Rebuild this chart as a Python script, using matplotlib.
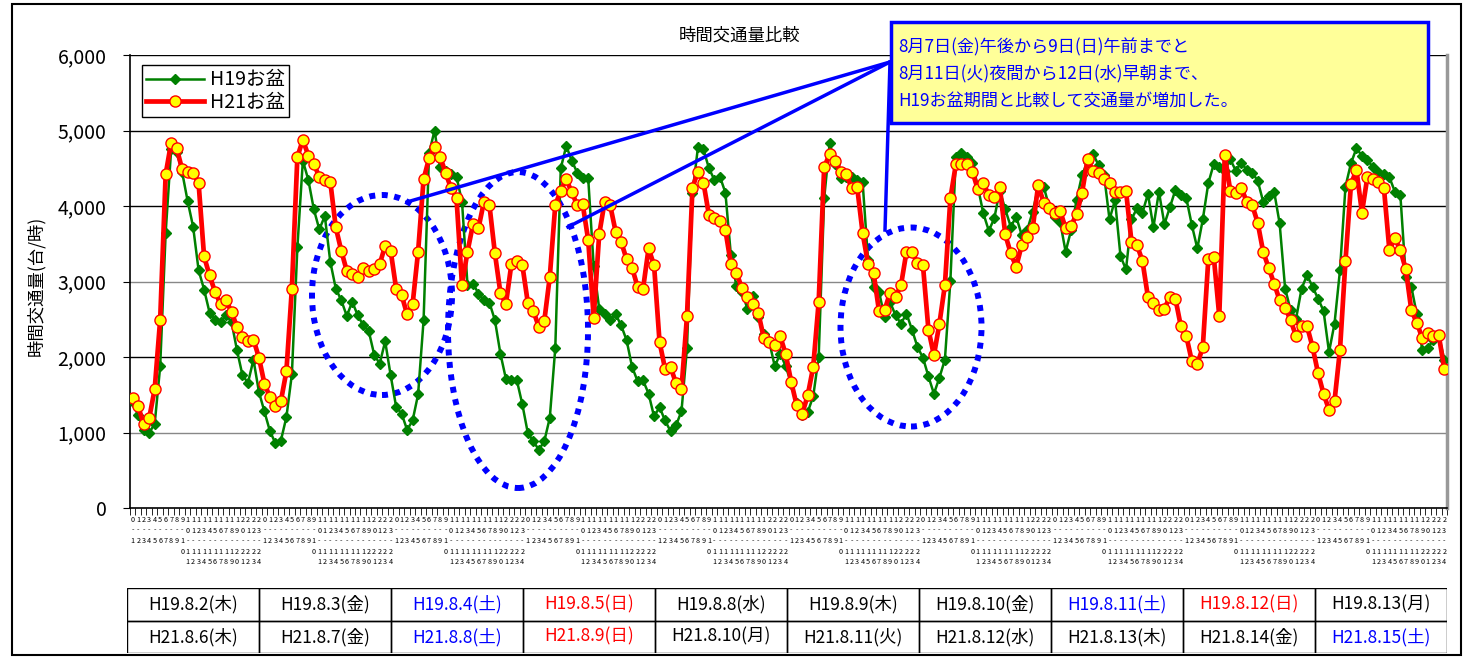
import matplotlib
matplotlib.use("Agg")
import matplotlib.pyplot as plt
from matplotlib.patches import Ellipse, Rectangle
from matplotlib.lines import Line2D

plt.rcParams['font.family'] = ['Noto Sans CJK JP', 'DejaVu Sans']

W, H = 1471, 657

# hourly traffic, 10 days x 24 hours
h19 = [
    1400, 1226, 1027, 996, 1115, 1876, 3646, 4750, 4721, 4450, 4066, 3726,
    3150, 2894, 2588, 2496, 2465, 2553, 2465, 2088, 1757, 1659, 1965, 1535,
    1279, 1018, 858, 894, 1204, 1770, 3451, 4600, 4345, 3956, 3690, 3867,
    3261, 2907, 2752, 2544, 2730, 2553, 2420, 2345, 2031, 1911, 2208, 1757,
    1340, 1248, 1035, 1159, 1504, 2487, 4700, 5000, 4520, 4470, 4420, 4390,
    4058, 2960, 2973, 2841, 2750, 2720, 2487, 2044, 1712, 1700, 1690, 1372,
    991, 885, 770, 885, 1195, 2119, 4500, 4796, 4600, 4442, 4367, 4367,
    3204, 2642, 2575, 2496, 2566, 2420, 2221, 1867, 1681, 1690, 1515, 1212,
    1336, 1159, 1018, 1093, 1283, 2119, 4168, 4780, 4750, 4500, 4345, 4389,
    4177, 3350, 2938, 2863, 2642, 2805, 2531, 2310, 2200, 1876, 2044, 1876,
    1646, 1390, 1226, 1270, 1478, 2000, 4102, 4832, 4560, 4367, 4390, 4389,
    4345, 4323, 3283, 2929, 2863, 2531, 2730, 2553, 2442, 2575, 2363, 2133,
    1991, 1743, 1513, 1726, 1965, 3009, 4655, 4708, 4646, 4575, 4257, 3903,
    3673, 3836, 4204, 3956, 3726, 3858, 3615, 3681, 3925, 4245, 4257, 3991,
    3858, 3792, 3394, 3681, 4080, 4412, 4588, 4686, 4544, 4412, 3823, 4080,
    3336, 3159, 3823, 3969, 3912, 4159, 3717, 4190, 3760, 3982, 4212, 4150,
    4102, 3748, 3438, 3823, 4301, 4558, 4522, 4469, 4619, 4469, 4575, 4478,
    4442, 4336, 4058, 4133, 4190, 3770, 2907, 2619, 2509, 2907, 3084, 2929,
    2774, 2611, 2066, 2442, 3150, 4257, 4566, 4765, 4664, 4610, 4513, 4456,
    4420, 4381, 4190, 4146, 3053, 2929, 2566, 2088, 2124, 2221, 2288, 1965,
]
h21 = [
    1456, 1345, 1106, 1190, 1575, 2496, 4420, 4841, 4765, 4487, 4456, 4442,
    4301, 3332, 3080, 2863, 2699, 2752, 2597, 2398, 2265, 2212, 2230, 1991,
    1646, 1469, 1345, 1416, 1810, 2907, 4650, 4876, 4668, 4553, 4389, 4345,
    4323, 3717, 3407, 3142, 3093, 3053, 3181, 3142, 3159, 3230, 3473, 3407,
    2907, 2819, 2566, 2699, 3394, 4354, 4633, 4788, 4655, 4442, 4235, 4102,
    2951, 3394, 3757, 3704, 4058, 4013, 3372, 2850, 2699, 3230, 3274, 3217,
    2717, 2611, 2398, 2478, 3062, 4013, 4204, 4354, 4181, 4013, 4022, 3549,
    2522, 3624, 4058, 4013, 3659, 3527, 3292, 3181, 2929, 2907, 3438, 3217,
    2199, 1845, 1867, 1655, 1580, 2540, 4243, 4456, 4310, 3881, 3845, 3800,
    3681, 3230, 3119, 2916, 2796, 2699, 2584, 2252, 2199, 2155, 2274, 2035,
    1668, 1358, 1248, 1491, 1867, 2730, 4513, 4690, 4602, 4456, 4420, 4243,
    4257, 3646, 3230, 3119, 2606, 2619, 2850, 2796, 2951, 3394, 3394, 3239,
    3217, 2363, 2022, 2442, 2951, 4102, 4553, 4553, 4553, 4456, 4221, 4301,
    4146, 4124, 4257, 3624, 3372, 3195, 3482, 3584, 3704, 4279, 4044, 3969,
    3912, 3938, 3704, 3735, 3889, 4177, 4619, 4469, 4434, 4354, 4301, 4190,
    4190, 4204, 3527, 3482, 3274, 2796, 2717, 2619, 2642, 2796, 2774, 2407,
    2274, 1947, 1903, 2133, 3292, 3327, 2544, 4677, 4204, 4177, 4243, 4058,
    4013, 3779, 3394, 3181, 2973, 2752, 2655, 2487, 2274, 2407, 2407, 2133,
    1788, 1513, 1301, 1416, 2097, 3274, 4288, 4478, 3912, 4389, 4354, 4323,
    4243, 3416, 3571, 3416, 3159, 2619, 2451, 2252, 2319, 2274, 2288, 1845,
]

h19_days = ["H19.8.2(木)", "H19.8.3(金)", "H19.8.4(土)", "H19.8.5(日)", "H19.8.8(水)",
            "H19.8.9(木)", "H19.8.10(金)", "H19.8.11(土)", "H19.8.12(日)", "H19.8.13(月)"]
h21_days = ["H21.8.6(木)", "H21.8.7(金)", "H21.8.8(土)", "H21.8.9(日)", "H21.8.10(月)",
            "H21.8.11(火)", "H21.8.12(水)", "H21.8.13(木)", "H21.8.14(金)", "H21.8.15(土)"]

note_lines = [
    "8月7日(金)午後から9日(日)午前までと",
    "8月11日(火)夜間から12日(水)早朝まで、",
    "H19お盆期間と比較して交通量が増加した。",
]

# hour labels, characters stacked one per line like the original axis
hour_labels = []
for d in range(10):
    for h in range(24):
        hour_labels.append("\n".join(f"{h}-{h + 1}"))


def day_color(label):
    if "(土)" in label:
        return "#0000FF"
    if "(日)" in label:
        return "#FF0000"
    return "black"


# pixel helpers (the reference is 1471x657)
def fx(px):
    return px / W


def fy(py):
    return 1 - py / H


fig = plt.figure(figsize=(W / 100, H / 100), dpi=100)
fig.patch.set_facecolor("white")

ax = fig.add_axes([fx(130), fy(508), 1317 / W, 453 / H])
x = list(range(len(h19)))

ax.plot(x, h19, color="#008000", lw=1.8, marker="D", ms=5, mfc="#008000",
        mec="#008000", label="H19お盆", zorder=4)
ax.plot(x, h21, color="#FF0000", lw=3.4, marker="o", ms=8, mfc="#FFFF00",
        mec="#FF0000", mew=1.0, label="H21お盆", zorder=5)

ax.set_xlim(-0.5, 239.5)
ax.set_ylim(0, 6000)

for v in range(1000, 7000, 1000):
    c = "#888888" if v in (1000, 3000) else "black"
    ax.axhline(v, color=c, lw=1, zorder=1)

ax.set_yticks(range(0, 7000, 1000))
ax.set_yticklabels([f"{v:,}" for v in range(0, 7000, 1000)], fontsize=14)
ax.tick_params(axis="y", direction="out", length=5, pad=12)

ax.set_xticks(x)
ax.set_xticklabels(hour_labels, fontsize=5.2, va="top", ha="center", linespacing=1.4)
ax.tick_params(axis="x", which="major", length=0, pad=6)
ax.set_xticks([i - 0.5 for i in range(241)], minor=True)
ax.tick_params(axis="x", which="minor", direction="out", length=5)

ax.spines["top"].set_visible(False)
ax.spines["right"].set_color("#999999")
ax.spines["right"].set_linewidth(2.5)
ax.spines["left"].set_linewidth(1.2)
ax.spines["bottom"].set_linewidth(1.2)

fig.text(fx(740), fy(36), "時間交通量比較", fontsize=12.5, ha="center", va="center")
fig.text(fx(36), fy(286), "時間交通量(台/時)", rotation=90, fontsize=12.5,
         ha="center", va="center")

leg = ax.legend(loc="upper left", bbox_to_anchor=(0.009, 0.977), borderaxespad=0,
                fontsize=14, fancybox=False, edgecolor="black", framealpha=1,
                handlelength=3.0, borderpad=0.2, labelspacing=0.1, handletextpad=0.3)
leg.get_frame().set_linewidth(1)
leg.set_zorder(6)


def px2x(px):
    return (px - 130) / 5.4875 - 0.5


def py2y(py):
    return (508 - py) / 453 * 6000


# dotted ellipses
for cx, cy, w, h in [(382, 295, 140, 200), (518, 330, 140, 316), (911, 327, 141, 199)]:
    e = Ellipse((px2x(cx), py2y(cy)), w / 5.4875, h / 453 * 6000, fill=False,
                edgecolor="#0000FF", lw=4.3, linestyle=(0, (1, 1.1)), zorder=3,
                clip_on=False)
    e.set_capstyle("butt")
    ax.add_patch(e)

# callout lines
for x0, y0, x1, y1 in [(890, 62, 407, 202), (890, 62, 568, 227), (890, 62, 885, 230)]:
    fig.add_artist(Line2D([fx(x0), fx(x1)], [fy(y0), fy(y1)], color="#0000FF",
                          lw=2.5, zorder=7))

# note box
fig.add_artist(Rectangle((fx(891), fy(123)), (1428 - 891) / W, (123 - 22) / H,
                         facecolor="#FFFF99", edgecolor="#0000FF", lw=2.5, zorder=8))
for k, line in enumerate(note_lines):
    fig.text(fx(898), fy(47 + 27 * k), line, color="#0000FF", fontsize=12.3,
             ha="left", va="center", zorder=9)

# date table
tab = fig.add_axes([fx(127), fy(653), 1320 / W, 65 / H])
tab.set_xlim(0, 10)
tab.set_ylim(0, 2)
tab.axis("off")
for r, row in enumerate([h19_days, h21_days]):
    for c, label in enumerate(row):
        tab.add_patch(Rectangle((c, 1 - r), 1, 1, fill=False, edgecolor="black", lw=1))
        tab.text(c + 0.5, 1.5 - r, label, ha="center", va="center", fontsize=12.5,
                 color=day_color(label))

# outer frame
fig.add_artist(Rectangle((fx(12), fy(655)), (1461 - 12) / W, (655 - 4) / H,
                         fill=False, edgecolor="black", lw=1.5))

fig.savefig("out.png", dpi=100)
